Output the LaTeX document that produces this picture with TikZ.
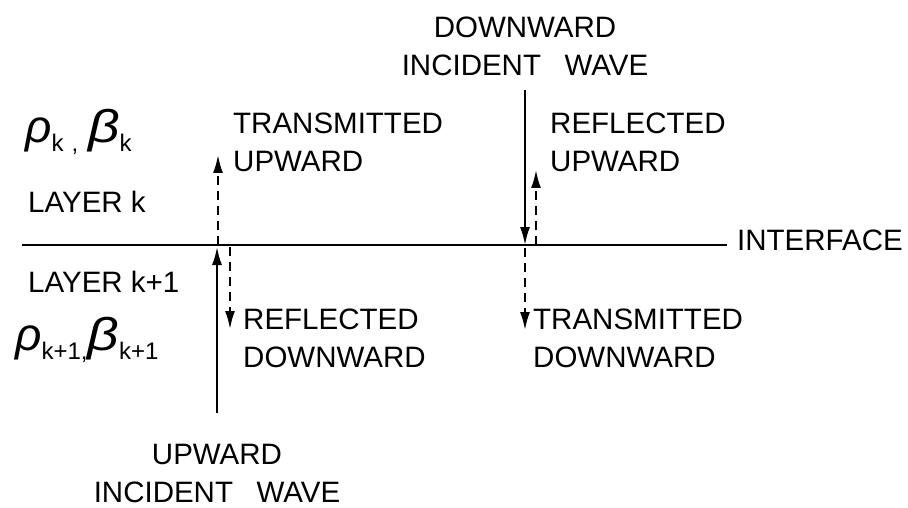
\documentclass[tikz,border=0pt]{standalone}
\usepackage{fontspec}
\setmainfont{Liberation Sans}
\usetikzlibrary{arrows.meta, positioning}

\newcommand{\grk}[1]{{\fontsize{46}{46}\selectfont\itshape #1}}
\newcommand{\lowk}[1]{\raisebox{-9pt}{\fontsize{24}{24}\selectfont #1}}

\begin{document}
\begin{tikzpicture}[x=1pt, y=-1pt, font=\fontsize{29.5}{38}\selectfont,
    lbl/.style={inner sep=0pt, align=left, anchor=west},
    glbl/.style={inner sep=0pt, anchor=base west},
    wave/.style={line width=2pt, -{Latex[length=18pt, width=10pt]}},
    dwave/.style={wave, dash pattern=on 9pt off 6pt}]
  \useasboundingbox (0,0) rectangle (908,508);

  % layers and interface
  \node[glbl] (pk)  at (25,143) {\grk{ρ}\lowk{k\hspace{8pt},}\hspace{10pt}\grk{\scalebox{1.2}[1]{β}}\lowk{k}};
  \node[lbl]  (lk)  at (28,202) {LAYER k};
  \node[lbl]  (lk1) at (28,282) {LAYER k+1};
  \node[glbl] (pk1) at (15,350) {\grk{ρ}\lowk{k+1,}\grk{\scalebox{1.2}[1]{β}}\lowk{k+1}};
  \node[lbl]  (ifc) at (737,240) {INTERFACE};
  \coordinate (ifcL) at (22,245);
  \draw[line width=2pt] (ifcL) -- ([xshift=-10pt]ifc.west |- ifcL);

  % wave from below
  \node[align=center, inner sep=0pt] (upin) at (217,473) {UPWARD\\INCIDENT\hspace{0.8em}WAVE};
  \node[lbl] (tu) at (233,142.5) {TRANSMITTED\\UPWARD};
  \node[lbl] (rd) at (243,338.5) {REFLECTED\\DOWNWARD};
  \coordinate (a0) at (217,413);
  \coordinate (a1) at (217,247);
  \coordinate (a2) at (218,245);
  \coordinate (a3) at (218,155);
  \coordinate (a4) at (230,247);
  \coordinate (a5) at (230,329);
  \draw[wave]  (a0) -- (a1);
  \draw[dwave] (a2) -- (a3);
  \draw[dwave] (a4) -- (a5);

  % wave from above
  \node[align=center, inner sep=0pt] (dnin) at (525,46) {DOWNWARD\\INCIDENT\hspace{0.8em}WAVE};
  \node[lbl] (ru) at (550,142.5) {REFLECTED\\UPWARD};
  \node[lbl] (td) at (533,338.5) {TRANSMITTED\\DOWNWARD};
  \coordinate (b0) at (525,90);
  \coordinate (b1) at (525,245);
  \coordinate (b2) at (536,245);
  \coordinate (b3) at (536,170);
  \coordinate (b4) at (525,248);
  \coordinate (b5) at (525,330);
  \draw[wave]  (b0) -- (b1);
  \draw[dwave] (b2) -- (b3);
  \draw[dwave] (b4) -- (b5);
\end{tikzpicture}
\end{document}
